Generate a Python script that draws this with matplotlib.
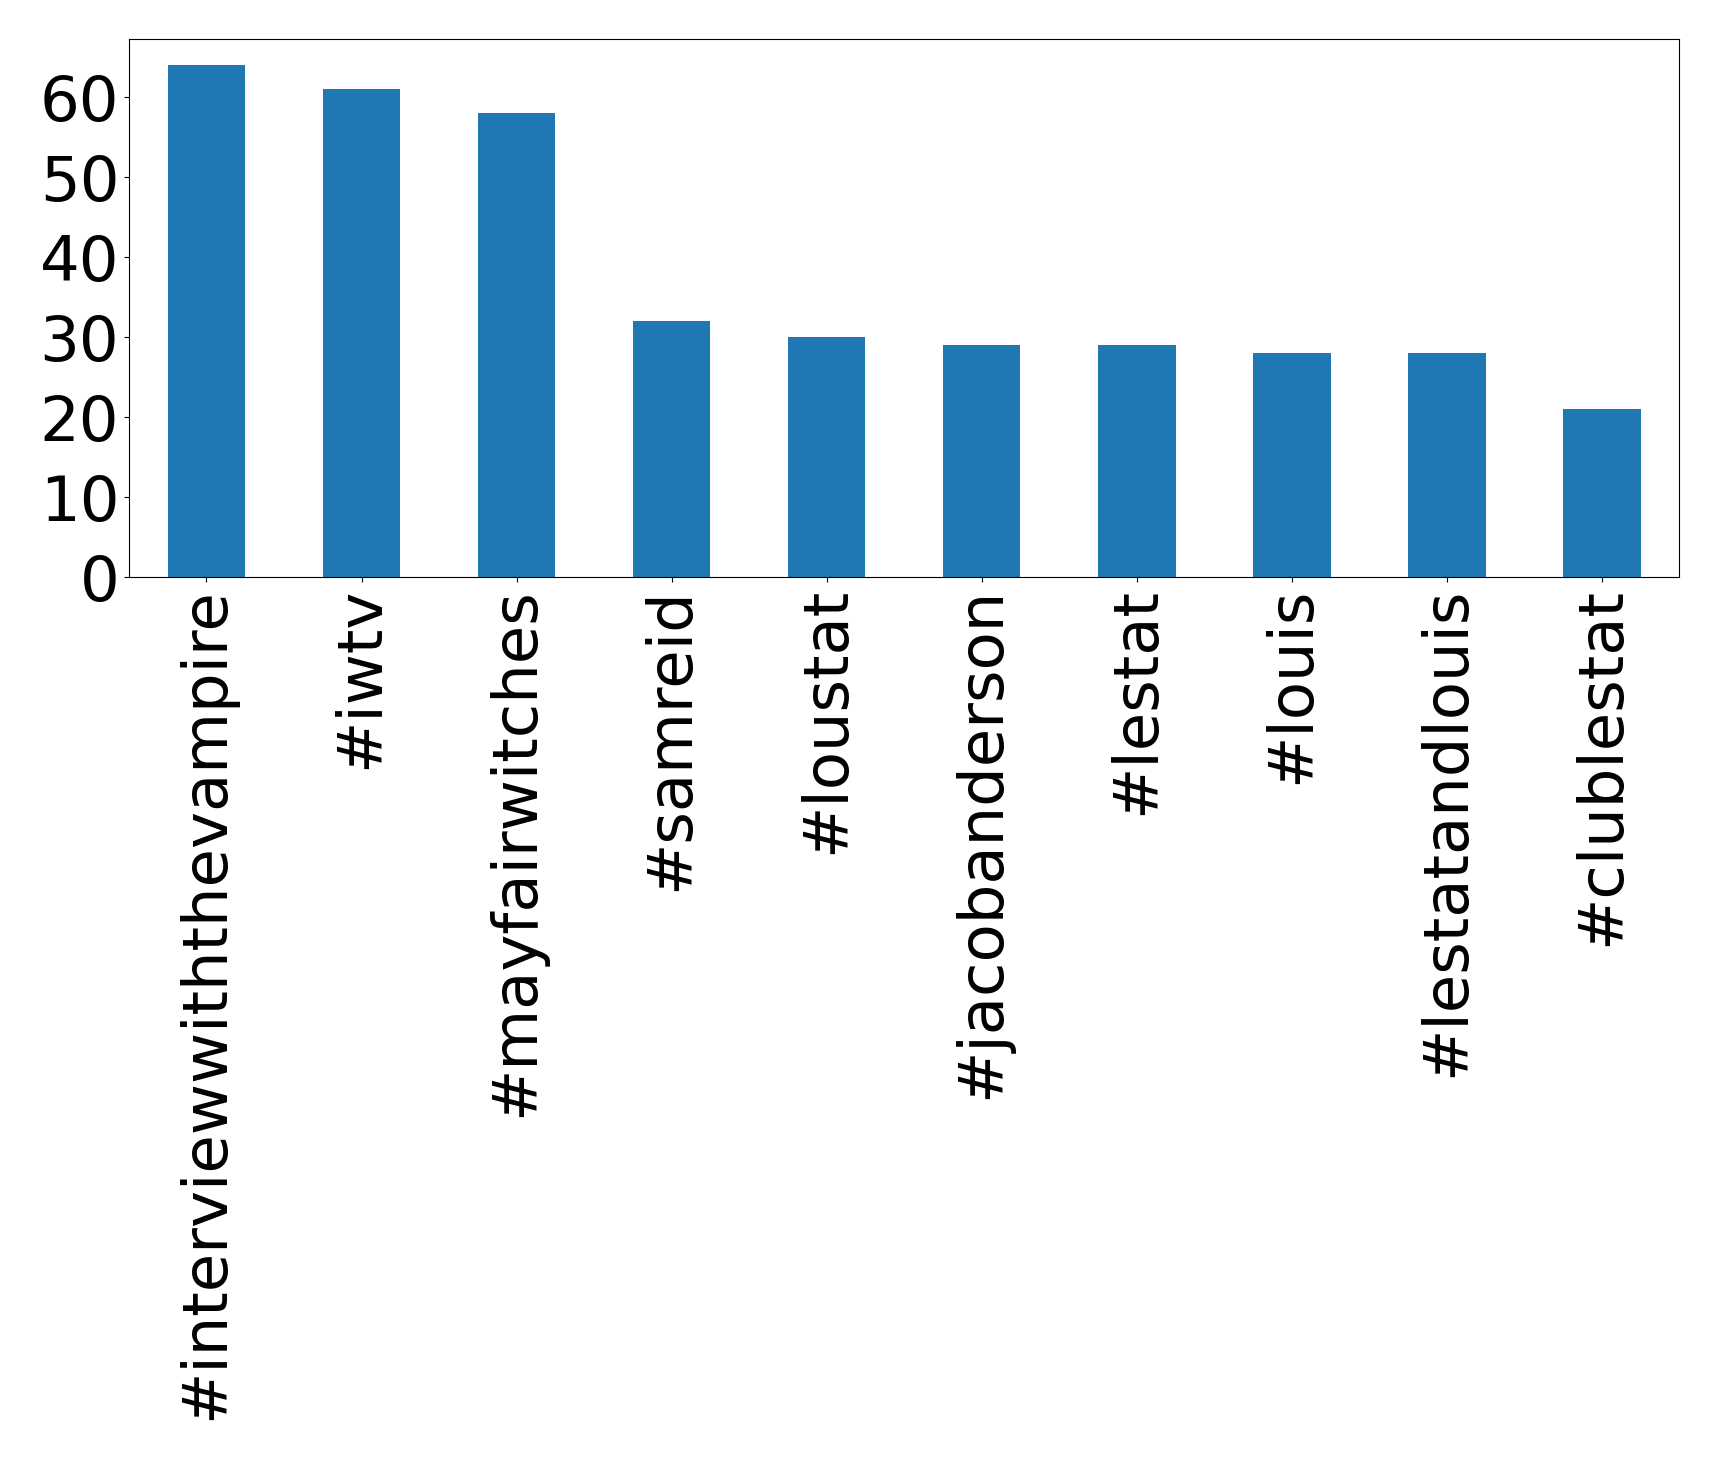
import matplotlib
matplotlib.use("Agg")
import matplotlib.pyplot as plt
import numpy as np

# ---------- data ----------
hashtags = [
    "#interviewwiththevampire",
    "#iwtv",
    "#mayfairwitches",
    "#samreid",
    "#loustat",
    "#jacobanderson",
    "#lestat",
    "#louis",
    "#lestatandlouis",
    "#clublestat",
]
counts = [64, 61, 58, 32, 30, 29, 29, 28, 28, 21]

# ---------- canvas ----------
fig = plt.figure(figsize=(17.19, 14.61), dpi=100)
ax = fig.add_axes([0.075, 0.605, 0.902, 0.368])

x = np.arange(len(hashtags))
ax.bar(x, counts, width=0.5, color="#1f77b4")
ax.set_xlim(-0.5, len(hashtags) - 0.5)
ax.set_ylim(0, 67.2)
ax.set_yticks(np.arange(0, 61, 10))
ax.set_xticks(x)
ax.set_xticklabels(hashtags, rotation=90)
ax.tick_params(axis="both", labelsize=45)

fig.savefig("out.png", dpi=100)
